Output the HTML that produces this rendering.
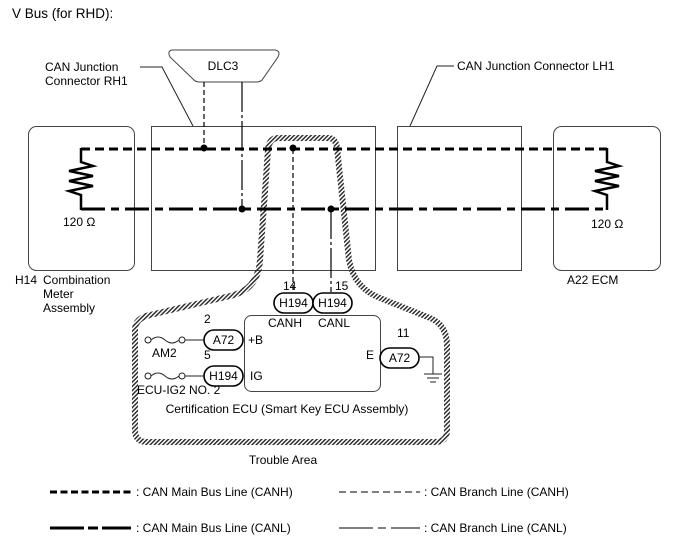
<!DOCTYPE html>
<html><head><meta charset="utf-8"><style>
html,body{margin:0;padding:0;background:#fff;}
svg{display:block;}
text{font-family:"Liberation Sans",Arial,sans-serif;font-size:12px;fill:#000;}
</style></head><body>
<svg width="688" height="560" viewBox="0 0 688 560" xmlns="http://www.w3.org/2000/svg">
<defs>
<pattern id="h" width="3" height="3" patternUnits="userSpaceOnUse" patternTransform="rotate(45)">
<rect x="0" y="0" width="1.4" height="3" fill="#222"/>
</pattern>
</defs>
<text x="12" y="18" style="font-size:13.5px">V Bus (for RHD):</text>

<rect x="28.5" y="126.5" width="106" height="144" rx="8" fill="none" stroke="#444"/>
<rect x="151.5" y="126.5" width="224" height="144" fill="none" stroke="#444"/>
<rect x="397.5" y="126.5" width="124" height="144" fill="none" stroke="#444"/>
<rect x="553.5" y="126.5" width="107" height="144" rx="8" fill="none" stroke="#444"/>

<path d="M172,50 L275,50 Q281,51 278,57 L262,80 Q260,82 256,82 L200,82 Q196,82 194,80 L170,57 Q167,51 172,50 Z" fill="#fff" stroke="#444"/>
<text x="223" y="70" text-anchor="middle">DLC3</text>

<text x="45" y="71">CAN Junction</text>
<text x="45" y="85">Connector RH1</text>
<polyline points="140,67 162,67 193,126" fill="none" stroke="#222"/>
<text x="457" y="70">CAN Junction Connector LH1</text>
<polyline points="454,66 437,66 410,126" fill="none" stroke="#222"/>

<path d="M278,138 L328,138 Q336,138 337,148 L349,260 Q354,288 380,298 L430,318 Q447,325 447,345 L447,430 Q447,442 435,442 L147,442 Q135,442 135,430 L135,330 Q135,318 150,315 L230,296 Q258,290 260,260 L268,150 Q269,138 278,138 Z" fill="none" stroke="url(#h)" stroke-width="6"/>

<path d="M81,149 L607,149" stroke="#000" stroke-width="3" stroke-dasharray="9,5" fill="none"/>
<path d="M81,209 L607,209" stroke="#000" stroke-width="3" stroke-dasharray="24,6,8,6" fill="none"/>

<path d="M81,148 L81,162 L93,166 L69,171 L93,176 L69,181 L93,186 L69,191 L81,195 L81,210" fill="none" stroke="#000" stroke-width="2.5"/>
<path d="M607,148 L607,162 L619,166 L595,171 L619,176 L595,181 L619,186 L595,191 L607,195 L607,210" fill="none" stroke="#000" stroke-width="2.5"/>
<text x="63" y="226">120 Ω</text>
<text x="591" y="228">120 Ω</text>

<path d="M204,82 L204,149" stroke="#000" stroke-width="1.2" stroke-dasharray="5,3"/>
<path d="M242,82 L242,209" stroke="#000" stroke-width="1.2" stroke-dasharray="30,3,3,3"/>
<path d="M293,149 L293,292" stroke="#000" stroke-width="1.2" stroke-dasharray="5,3"/>
<path d="M331,209 L331,292" stroke="#000" stroke-width="1.2" stroke-dasharray="30,3,3,3"/>
<circle cx="204" cy="148" r="3.5"/><circle cx="242" cy="209" r="3.5"/>
<circle cx="293" cy="148" r="3.5"/><circle cx="331" cy="209" r="3.5"/>

<text x="15" y="284">H14</text><text x="43" y="284">Combination</text>
<text x="43" y="298">Meter</text><text x="43" y="312">Assembly</text>
<text x="567" y="284">A22  ECM</text>

<rect x="244.5" y="315.5" width="136" height="76" rx="7" fill="none" stroke="#444"/>
<text x="283" y="290">14</text><text x="335" y="290">15</text>
<rect x="274" y="293" width="39" height="20" rx="10" fill="#fff" stroke="#000" stroke-width="1.6"/>
<text x="293.5" y="307" text-anchor="middle">H194</text>
<rect x="313" y="293" width="39" height="20" rx="10" fill="#fff" stroke="#000" stroke-width="1.6"/>
<text x="332.5" y="307" text-anchor="middle">H194</text>
<text x="268" y="327">CANH</text><text x="318" y="327">CANL</text>

<text x="204" y="323">2</text>
<rect x="204" y="330" width="39" height="20" rx="10" fill="#fff" stroke="#000" stroke-width="1.6"/>
<text x="223.5" y="344" text-anchor="middle">A72</text>
<text x="248" y="344">+B</text>
<text x="204" y="359">5</text>
<rect x="204" y="366" width="39" height="20" rx="10" fill="#fff" stroke="#000" stroke-width="1.6"/>
<text x="223.5" y="380" text-anchor="middle">H194</text>
<text x="250" y="380">IG</text>

<g fill="#fff" stroke="#222" stroke-width="1">
<circle cx="148" cy="340" r="3"/><circle cx="182" cy="340" r="3"/>
<path d="M151,340 Q158,334 165,340 Q172,346 179,340" fill="none"/>
<line x1="185" y1="340" x2="204" y2="340"/>
<circle cx="148" cy="376" r="3"/><circle cx="182" cy="376" r="3"/>
<path d="M151,376 Q158,370 165,376 Q172,382 179,376" fill="none"/>
<line x1="185" y1="376" x2="204" y2="376"/>
</g>
<text x="152" y="357">AM2</text>
<text x="137" y="394">ECU-IG2 NO. 2</text>

<text x="397" y="337">11</text>
<text x="366" y="359">E</text>
<rect x="380" y="348" width="39" height="20" rx="10" fill="#fff" stroke="#000" stroke-width="1.6"/>
<text x="399.5" y="362" text-anchor="middle">A72</text>
<polyline points="419,357 433,357 433,374" fill="none" stroke="#222"/>
<line x1="424" y1="374" x2="442" y2="374" stroke="#222"/>
<line x1="427" y1="378" x2="439" y2="378" stroke="#222"/>
<line x1="430" y1="382" x2="436" y2="382" stroke="#222"/>

<text x="287" y="413" text-anchor="middle">Certification ECU (Smart Key ECU Assembly)</text>
<text x="283" y="464" text-anchor="middle">Trouble Area</text>

<path d="M50,492 L131,492" stroke="#000" stroke-width="3" stroke-dasharray="7,3.5"/>
<text x="136" y="496">: CAN Main Bus Line (CANH)</text>
<path d="M339,492 L420,492" stroke="#000" stroke-width="1" stroke-dasharray="7,4"/>
<text x="424" y="496">: CAN Branch Line (CANH)</text>
<path d="M50,528 L131,528" stroke="#000" stroke-width="3" stroke-dasharray="34,4,10,4"/>
<text x="136" y="532">: CAN Main Bus Line (CANL)</text>
<path d="M339,528 L420,528" stroke="#000" stroke-width="1" stroke-dasharray="34,5,8,5"/>
<text x="424" y="532">: CAN Branch Line (CANL)</text>
</svg>
</body></html>
